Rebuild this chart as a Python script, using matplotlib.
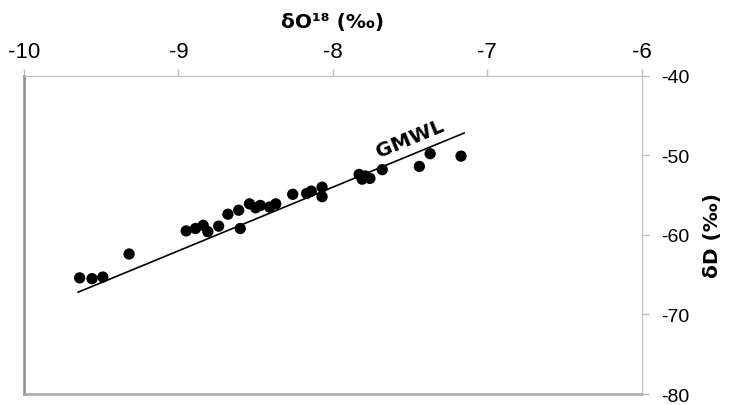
import numpy as np
import matplotlib
matplotlib.use("Agg")
import matplotlib.pyplot as plt

plt.rcParams["axes.unicode_minus"] = False

# sample values
d18o = [-9.64, -9.56, -9.49, -9.32, -8.95, -8.89, -8.84, -8.81, -8.74, -8.68,
        -8.61, -8.60, -8.54, -8.50, -8.47, -8.41, -8.37, -8.26, -8.17, -8.14,
        -8.07, -8.07, -7.83, -7.81, -7.79, -7.76, -7.68, -7.44, -7.37, -7.17]
d2h = [-65.4, -65.5, -65.3, -62.4, -59.5, -59.2, -58.8, -59.6, -58.9, -57.4,
       -56.9, -59.2, -56.1, -56.6, -56.3, -56.5, -56.1, -54.9, -54.8, -54.5,
       -54.0, -55.2, -52.4, -53.0, -52.6, -52.9, -51.8, -51.4, -49.8, -50.1]

# global meteoric water line: dD = 8 * d18O + 10
gmwl_x = np.array([-9.65, -7.15])
gmwl_y = 8 * gmwl_x + 10

xticks = [-10, -9, -8, -7, -6]
yticks = [-80, -70, -60, -50, -40]

fig = plt.figure(figsize=(7.3, 4.06), dpi=100)
ax = fig.add_axes([0.033, 0.027, 0.846, 0.784])

ax.plot(gmwl_x, gmwl_y, color="black", lw=1.2, zorder=2)
ax.scatter(d18o, d2h, s=66, color="black", edgecolors="none", zorder=3)
ax.text(-7.50, -47.8, "GMWL", rotation=22.5, ha="center", va="center",
        fontsize=14.5, fontweight="semibold", family="DejaVu Sans")

ax.set_xlim(-10, -6)
ax.set_ylim(-80, -40)
ax.set_xticks(xticks)
ax.set_yticks(yticks)

ax.xaxis.tick_top()
ax.xaxis.set_label_position("top")
ax.yaxis.tick_right()
ax.yaxis.set_label_position("right")

ax.tick_params(axis="x", direction="out", length=5, width=1, color="#bfbfbf",
               pad=5, labelsize=16)
ax.tick_params(axis="y", direction="out", length=5, width=1, color="#bfbfbf",
               pad=9, labelsize=14)
for lab in ax.get_xticklabels() + ax.get_yticklabels():
    lab.set_family("Liberation Sans")

ax.set_xlabel("δO¹⁸ (‰)", fontsize=14.5, fontweight="bold", labelpad=10)
ax.set_ylabel("δD (‰)", fontsize=14.5, fontweight="bold", labelpad=10)

ax.spines["top"].set_color("#bfbfbf")
ax.spines["right"].set_color("#bfbfbf")
ax.spines["left"].set_color("#8c8c8c")
ax.spines["left"].set_linewidth(1.8)
ax.spines["bottom"].set_color("#a8a8a8")
ax.spines["bottom"].set_linewidth(1.8)

fig.savefig("out.png", dpi=100)
